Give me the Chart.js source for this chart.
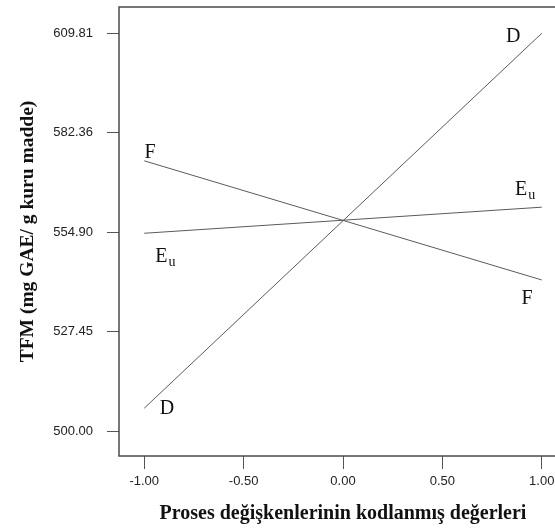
<!DOCTYPE html>
<html>
<head>
<meta charset="utf-8">
<script src="https://cdn.jsdelivr.net/npm/chart.js@4/dist/chart.umd.min.js"></script>
<style>
  html, body { margin: 0; padding: 0; background: #fff; overflow: hidden; }
  #wrap { width: 580px; height: 528px; }
</style>
</head>
<body>
<div id="wrap"><canvas id="traceChart" width="580" height="528"></canvas></div>
<script>
// coded levels of the process variables and TFM response at each end
const codedLevels = [-1, 1];
const valuesD = [506.3, 609.81];
const valuesF = [574.6, 541.7];
const valuesEu = [554.6, 561.8];

const xTickValues = [-1, -0.5, 0, 0.5, 1];
const yTickValues = [500.00, 527.45, 554.90, 582.36, 609.81];

// trace name tags, anchored in data units
const traceTags = [
    { text: "D", x: 0.856, y: 608.8 },
    { text: "D", x: -0.886, y: 506.1 },
    { text: "F", x: -0.971, y: 576.8 },
    { text: "F", x: 0.926, y: 536.4 },
    { text: "E", sub: "u", x: 0.896, y: 566.5 },
    { text: "E", sub: "u", x: -0.914, y: 548.0 },
];

const toPoints = (vals) => codedLevels.map((x, i) => ({ x: x, y: vals[i] }));

const lineStyle = {
    borderColor: "#5a5a5a",
    borderWidth: 1,
    pointRadius: 0,
    fill: false,
    tension: 0,
};

const framePlugin = {
    id: "frameAndTags",
    afterDraw(chart) {
        const { ctx, chartArea, scales } = chart;
        ctx.save();
        ctx.strokeStyle = "#4a4a4a";
        ctx.lineWidth = 1.5;
        ctx.strokeRect(chartArea.left, chartArea.top, chartArea.right - chartArea.left, chartArea.bottom - chartArea.top);

        ctx.fillStyle = "#111";
        ctx.textBaseline = "middle";
        traceTags.forEach((t) => {
            const px = scales.x.getPixelForValue(t.x);
            const py = scales.y.getPixelForValue(t.y);
            ctx.font = "20px 'Liberation Serif', 'Times New Roman', serif";
            ctx.textAlign = "center";
            ctx.fillText(t.text, px, py);
            if (t.sub) {
                const w = ctx.measureText(t.text).width;
                ctx.font = "14px 'Liberation Serif', 'Times New Roman', serif";
                ctx.textAlign = "left";
                ctx.fillText(t.sub, px + w / 2 + 1, py + 5);
            }
        });
        ctx.restore();
    },
};

new Chart(document.getElementById("traceChart").getContext("2d"), {
    type: "line",
    data: {
        datasets: [
            { label: "D", data: toPoints(valuesD), ...lineStyle },
            { label: "F", data: toPoints(valuesF), ...lineStyle },
            { label: "Eu", data: toPoints(valuesEu), ...lineStyle },
        ],
    },
    options: {
        responsive: false,
        animation: false,
        layout: { padding: { left: 0, top: 7, right: 13, bottom: 0 } },
        plugins: {
            legend: { display: false },
            tooltip: { enabled: false },
        },
        scales: {
            x: {
                type: "linear",
                min: -1.127,
                max: 1.127,
                afterBuildTicks: (scale) => {
                    scale.ticks = xTickValues.map((v) => ({ value: v }));
                },
                afterFit: (scale) => {
                    scale.height = 72;
                    scale.paddingLeft = 0;
                    scale.paddingRight = 0;
                },
                grid: {
                    drawOnChartArea: false,
                    drawTicks: true,
                    tickLength: 13,
                    color: "#555",
                },
                border: { display: false },
                ticks: {
                    padding: 5,
                    color: "#222",
                    font: { family: "'Liberation Sans', Arial, sans-serif", size: 13 },
                    maxRotation: 0,
                    callback: (v) => Number(v).toFixed(2),
                },
                title: {
                    display: true,
                    text: "Proses değişkenlerinin kodlanmış değerleri",
                    color: "#111",
                    font: { family: "'Liberation Serif', 'Times New Roman', serif", size: 20, weight: "bold" },
                    padding: { top: 0, bottom: 2 },
                },
            },
            y: {
                type: "linear",
                min: 493.1,
                max: 617.07,
                afterBuildTicks: (scale) => {
                    scale.ticks = yTickValues.map((v) => ({ value: v }));
                },
                afterFit: (scale) => {
                    scale.width = 119;
                    scale.paddingTop = 0;
                    scale.paddingBottom = 0;
                },
                grid: {
                    drawOnChartArea: false,
                    drawTicks: true,
                    tickLength: 12,
                    color: "#555",
                },
                border: { display: false },
                ticks: {
                    padding: 14,
                    color: "#222",
                    font: { family: "'Liberation Sans', Arial, sans-serif", size: 13 },
                    callback: (v) => Number(v).toFixed(2),
                },
                title: {
                    display: true,
                    text: "TFM (mg GAE/ g kuru madde)",
                    color: "#111",
                    font: { family: "'Liberation Serif', 'Times New Roman', serif", size: 19.5, weight: "bold" },
                    padding: { top: 16, bottom: 0 },
                },
            },
        },
    },
    plugins: [framePlugin],
});
</script>
</body>
</html>
